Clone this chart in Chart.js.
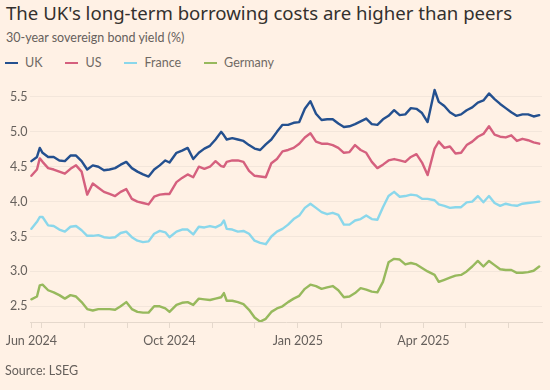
<!DOCTYPE html>
<html>
<head>
<meta charset="utf-8">
<script src="https://cdn.jsdelivr.net/npm/chart.js@4.4.1/dist/chart.umd.min.js"></script>
<style>
  html, body { margin: 0; padding: 0; background: #fff1e5; }
  #wrap { position: relative; width: 550px; height: 390px; background: #fff1e5; overflow: hidden;
          font-family: Lato, "Noto Sans", sans-serif; color: #33302e; }
  #title { position: absolute; left: 6px; top: 0px; font-family: "Noto Sans", sans-serif; font-size: 18.6px; white-space: nowrap; }
  #subtitle { position: absolute; left: 6px; top: 30px; font-size: 12.5px; color: #66605c; }
  #legend { position: absolute; left: 5px; top: 55px; display: flex; font-size: 12.5px; color: #6f6964; }
  .item { display: flex; align-items: center; margin-right: 23px; }
  .swatch { width: 13px; height: 2px; margin-right: 7px; }
  #source { position: absolute; left: 5px; top: 363px; font-size: 12.5px; color: #66605c; }
  canvas { position: absolute; left: 0; top: 0; }
</style>
</head>
<body>
<div id="wrap">
  <div id="title">The UK's long-term borrowing costs are higher than peers</div>
  <div id="subtitle">30-year sovereign bond yield (%)</div>
  <div id="legend"></div>
  <canvas id="chart" width="550" height="390"></canvas>
  <div id="source">Source: LSEG</div>
</div>
<script>
// day 0 = 24 Jun 2024
const days = [0, 4, 6, 8, 12, 16, 20, 24, 28, 32, 36, 40, 44, 48, 52, 56, 60, 64, 68, 72, 76, 80, 84, 88, 92,
  96, 99, 104, 108, 112, 116, 120, 124, 128, 132, 136, 138, 140, 144, 148, 152, 156, 160, 164, 168, 172, 176, 180, 184,
  188, 192, 196, 200, 204, 208, 212, 216, 220, 224, 228, 232, 236, 240, 244, 248, 252, 256, 260, 264, 268, 272,
  276, 280, 284, 289, 292, 296, 300, 304, 308, 312, 316, 320, 324, 328, 332, 336, 340, 344, 348, 352, 356, 360, 364];

const ukYield = [4.58, 4.64, 4.77, 4.70, 4.64, 4.64, 4.59, 4.58, 4.66, 4.66, 4.58, 4.46, 4.52, 4.50, 4.45, 4.46, 4.48, 4.53, 4.57, 4.48, 4.43, 4.39, 4.36, 4.46, 4.52,
  4.59, 4.56, 4.70, 4.73, 4.77, 4.61, 4.70, 4.76, 4.80, 4.89, 5.00, 4.95, 4.89, 4.91, 4.89, 4.87, 4.81, 4.76, 4.74, 4.82, 4.89, 5.00, 5.10, 5.10,
  5.13, 5.14, 5.33, 5.44, 5.26, 5.17, 5.18, 5.18, 5.12, 5.07, 5.08, 5.11, 5.15, 5.19, 5.11, 5.10, 5.18, 5.23, 5.31, 5.24, 5.25, 5.34,
  5.33, 5.27, 5.14, 5.60, 5.43, 5.37, 5.28, 5.23, 5.25, 5.31, 5.35, 5.42, 5.45, 5.55, 5.47, 5.40, 5.34, 5.28, 5.23, 5.25, 5.25, 5.22, 5.24];

const usYield = [4.37, 4.46, 4.62, 4.57, 4.48, 4.46, 4.43, 4.40, 4.47, 4.52, 4.43, 4.10, 4.26, 4.20, 4.14, 4.11, 4.08, 4.14, 4.18, 4.04, 4.00, 3.98, 3.96, 4.07, 4.10,
  4.11, 4.11, 4.28, 4.34, 4.39, 4.35, 4.50, 4.47, 4.50, 4.58, 4.51, 4.50, 4.57, 4.59, 4.59, 4.57, 4.44, 4.37, 4.36, 4.35, 4.55, 4.61, 4.72, 4.74,
  4.77, 4.83, 4.92, 4.98, 4.86, 4.83, 4.83, 4.81, 4.77, 4.70, 4.71, 4.81, 4.74, 4.70, 4.57, 4.48, 4.53, 4.59, 4.61, 4.59, 4.57, 4.64,
  4.68, 4.56, 4.38, 4.76, 4.86, 4.77, 4.79, 4.69, 4.70, 4.81, 4.86, 4.93, 4.97, 5.08, 4.96, 4.93, 4.92, 4.95, 4.87, 4.90, 4.88, 4.85, 4.83];

const franceYield = [3.61, 3.71, 3.78, 3.78, 3.66, 3.65, 3.60, 3.57, 3.64, 3.65, 3.59, 3.51, 3.51, 3.52, 3.49, 3.48, 3.49, 3.55, 3.57, 3.49, 3.44, 3.42, 3.43, 3.54, 3.58,
  3.56, 3.49, 3.57, 3.60, 3.60, 3.53, 3.64, 3.63, 3.65, 3.63, 3.67, 3.73, 3.61, 3.60, 3.57, 3.58, 3.54, 3.44, 3.41, 3.39, 3.50, 3.57, 3.61, 3.67,
  3.75, 3.80, 3.91, 3.97, 3.91, 3.85, 3.82, 3.84, 3.81, 3.67, 3.67, 3.73, 3.75, 3.80, 3.75, 3.74, 3.92, 4.08, 4.14, 4.07, 4.08, 4.10,
  4.09, 4.04, 4.04, 4.02, 3.96, 3.94, 3.91, 3.92, 3.92, 3.99, 4.00, 4.08, 3.99, 4.08, 3.98, 3.94, 3.97, 3.95, 3.94, 3.97, 3.98, 3.99, 4.00];

const germanyYield = [2.60, 2.64, 2.80, 2.81, 2.73, 2.70, 2.66, 2.61, 2.66, 2.64, 2.56, 2.46, 2.44, 2.46, 2.46, 2.46, 2.45, 2.50, 2.56, 2.46, 2.42, 2.41, 2.41, 2.50, 2.50,
  2.47, 2.42, 2.52, 2.55, 2.56, 2.52, 2.61, 2.60, 2.59, 2.61, 2.63, 2.69, 2.58, 2.58, 2.56, 2.53, 2.45, 2.34, 2.28, 2.32, 2.42, 2.47, 2.50, 2.56,
  2.61, 2.65, 2.75, 2.81, 2.79, 2.75, 2.77, 2.79, 2.73, 2.63, 2.64, 2.69, 2.76, 2.74, 2.71, 2.70, 2.85, 3.13, 3.18, 3.17, 3.10, 3.12,
  3.10, 3.05, 3.00, 2.95, 2.85, 2.88, 2.91, 2.94, 2.95, 3.00, 3.07, 3.15, 3.07, 3.15, 3.09, 3.03, 3.02, 3.02, 2.98, 2.98, 2.99, 3.01, 3.07];

const seriesNames = ["UK", "US", "France", "Germany"];
const seriesColours = ["#24508f", "#d5607e", "#8ad7eb", "#97b95d"];

// month starts as day offsets; the first tick carries the "Jun 2024" label
const tickDays = [0, 7, 38, 69, 99, 130, 160, 191, 222, 250, 281, 311, 342];
const labelDays = [0, 99, 191, 281];
const labelText = ["Jun 2024", "Oct 2024", "Jan 2025", "Apr 2025"];
const yTicks = [2.5, 3.0, 3.5, 4.0, 4.5, 5.0, 5.5];

const allSeries = [ukYield, usYield, franceYield, germanyYield];

// legend
const legend = document.getElementById("legend");
seriesNames.forEach((name, i) => {
  const item = document.createElement("div");
  item.className = "item";
  item.innerHTML = '<span class="swatch" style="background:' + seriesColours[i] + '"></span>' + name;
  legend.appendChild(item);
});

Chart.defaults.font.family = 'Lato, "Noto Sans", sans-serif';

const ctx = document.getElementById("chart").getContext("2d");
new Chart(ctx, {
  type: "line",
  data: {
    datasets: allSeries.map((vals, i) => ({
      label: seriesNames[i],
      data: days.map((d, j) => ({ x: d, y: vals[j] })),
      borderColor: seriesColours[i],
      fill: false,
    })),
  },
  options: {
    responsive: false,
    animation: false,
    layout: { padding: { top: 83, left: 10, right: 8, bottom: 38 } },
    elements: {
      line: { borderWidth: 2.4, tension: 0, borderJoinStyle: "round", borderCapStyle: "round" },
      point: { radius: 0 },
    },
    plugins: { legend: { display: false }, tooltip: { enabled: false } },
    scales: {
      x: {
        type: "linear",
        min: -1,
        max: 366,
        afterBuildTicks: (s) => { s.ticks = tickDays.map((v) => ({ value: v })); },
        afterFit: (s) => { s.height = 30; },
        grid: { drawOnChartArea: false, drawTicks: true, tickLength: 6, tickColor: "#e5d8cc" },
        border: { display: true, color: "#e5d8cc" },
        ticks: {
          autoSkip: false,
          maxRotation: 0,
          padding: 5,
          color: "#66605c",
          font: { size: 12.5 },
          callback: (v) => {
            const i = labelDays.indexOf(v);
            return i >= 0 ? labelText[i] : "";
          },
        },
      },
      y: {
        min: 2.275,
        max: 5.7,
        afterBuildTicks: (s) => { s.ticks = yTicks.map((v) => ({ value: v })); },
        afterFit: (s) => { s.width = 20; },
        grid: { color: "#f3e6db", drawTicks: false },
        border: { display: false },
        ticks: {
          crossAlign: "far",
          padding: 0,
          color: "#66605c",
          font: { size: 12.5 },
          callback: (v) => v.toFixed(1),
        },
      },
    },
  },
});
</script>
</body>
</html>
